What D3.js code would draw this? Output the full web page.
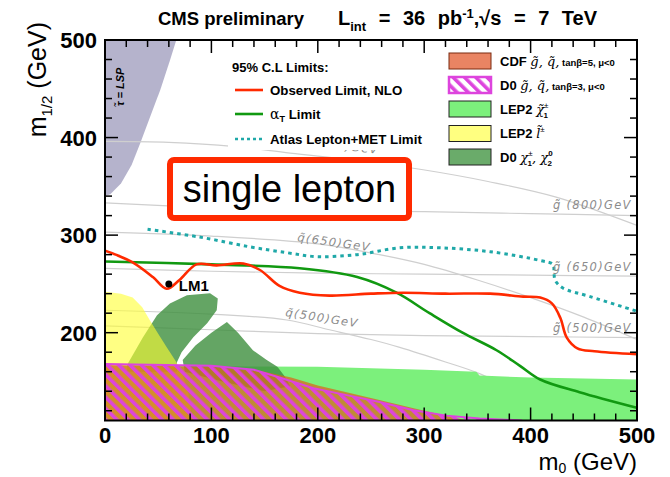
<!DOCTYPE html>
<html><head><meta charset="utf-8">
<script src="https://cdn.jsdelivr.net/npm/d3@7"></script>
<style>
body{margin:0;background:#fff;}
svg{display:block;font-family:"Liberation Sans",Arial,Helvetica,sans-serif;}
</style></head>
<body><svg id="c" width="670" height="477"></svg>
<script>
// ---------- data (m0, m1/2 in GeV) ----------
const xTicks = [0,100,200,300,400,500];
const yTicks = [200,300,400,500];

const stauM0  = [0,5,15,25,33,42,52,61,67];
const stauM12 = [340,342,353,372,394,420,449,479,500];

const sq800M0  = [0,60,120,174,240,299,360,424,500];
const sq800M12 = [396,395,391,384,376,367,355,339,310];
const gl800M0  = [0,100,200,300,400,500];
const gl800M12 = [333,328,325,324,322,320];
const sq650M0  = [0,100,200,258,300,350,400,450,500];
const sq650M12 = [303,299,291,280,270,254,236,216,193];
const gl650M0  = [0,100,200,300,400,500];
const gl650M12 = [266,263,261,260,259,258];
const sq500M0  = [0,100,171,211,250,277,320,352,390,430];
const sq500M12 = [223,219,213,203,193,185,170,158,138,110];
const gl500M0  = [0,100,200,300,400,500];
const gl500M12 = [207,203,199,197,196,195];

const lepChM0  = [0,200,300,349,352,400,500];
const lepChM12 = [166,165,162,160,156,154,152];

const lepSlM0  = [0,15,26,35,42,50,58,67,72,78,82];
const lepSlM12 = [242,240,236,226,213,199,185,170,160,140,110];

const d0aM0  = [20.7,35.7,48.9,61,77,98.7,106,105,96,83,72,67.7];
const d0aM12 = [167,195.4,218,230,238.5,240.5,235,223,209.7,195.4,180,170];
const d0bM0  = [73,85,100,114.6,125,139,152,162,169,174,150,110,75];
const d0bM12 = [172,187,200,211,200,182,172,165,155,145,140,150,160];

const cdfM0  = [0,100,150,175,200,250,300,340];
const cdfM12 = [167,165,160,154,146,133,120,110];
const d0M0   = [0,100,140,164,196,227,258,290,321,352,392];
const d0M12  = [168,166,162,154,143,136,129,120.5,115,112,110];

const obsM0  = [0,10,26,45,58,70,86,105,130,146,164,183,211,250,280,320,362,393,409,420,428,434,444,460,500];
const obsM12 = [284,280,272,257,245,254,270,269,271,264,248,241,238,240,241,240,240,237,236,230,215,195,184,181,178];

const atM0  = [0,100,183,237,274,305,336,368,390,409,446,500];
const atM12 = [273,270,266,257,241,220,200,182,166,152,139,123];

const atlasM0  = [40,89,136,171,199,237,277,315,362,409,421,422,423,430,456,500];
const atlasM12 = [306,298,288,282,278,280,287,287,283,274,270,262,254,246,237,222];

const lm1 = [60,250];

// ---------- setup ----------
const svg = d3.select("#c");
const x = d3.scaleLinear().domain([0,500]).range([105,637]);
const y = d3.scaleLinear().domain([110,500]).range([420.5,40]);
const zip = (a,b)=>a.map((v,i)=>[v,b[i]]);
const defs = svg.append("defs");
defs.append("clipPath").attr("id","plot").append("rect")
  .attr("x",x(0)).attr("y",y(500)).attr("width",x(500)-x(0)).attr("height",y(110)-y(500));
const hatch = defs.append("pattern").attr("id","hatch").attr("patternUnits","userSpaceOnUse")
  .attr("width",8).attr("height",8).attr("patternTransform","rotate(-45)");
hatch.append("rect").attr("x",0).attr("y",0).attr("width",3.6).attr("height",8).attr("fill","#dd44dd");

const area = (m0,m12,close)=>{
  const pts = zip(m0,m12).concat(close);
  return "M"+pts.map(p=>x(p[0])+","+y(p[1])).join("L")+"Z";
};
const smooth = d3.line().x(d=>x(d[0])).y(d=>y(d[1])).curve(d3.curveCatmullRom.alpha(0.5));
const g = svg.append("g").attr("clip-path","url(#plot)");

// stau LSP region
g.append("path").attr("d", area(stauM0,stauM12,[[0,500]])).attr("fill","#b5b3cc");

// iso-mass lines
[[sq800M0,sq800M12],[gl800M0,gl800M12],[sq650M0,sq650M12],[gl650M0,gl650M12],[sq500M0,sq500M12],[gl500M0,gl500M12]]
 .forEach(([a,b])=>g.append("path").attr("d",smooth(zip(a,b))).attr("fill","none").attr("stroke","#cfcfcf").attr("stroke-width",1.2));

// exclusion regions
g.append("path").attr("d", area(lepChM0,lepChM12,[[500,100],[0,100]])).attr("fill","#7cf07c");
g.append("path").attr("d", area(d0aM0,d0aM12,[[67.7,160],[20.7,160]])).attr("fill","#3d8f3d").attr("fill-opacity",0.8);
g.append("path").attr("d", area(d0bM0,d0bM12,[])).attr("fill","#3d8f3d").attr("fill-opacity",0.8);
g.append("path").attr("d", area(lepSlM0,lepSlM12,[[0,100]])).attr("fill","#ffff30").attr("fill-opacity",0.6);
g.append("path").attr("d", area(cdfM0,cdfM12,[[0,100]])).attr("fill","#d86a1c").attr("fill-opacity",0.75);
g.append("path").attr("d", area(d0M0,d0M12,[[0,100]])).attr("fill","url(#hatch)").attr("stroke","#dd44dd").attr("stroke-width",2);

// iso labels
const isoLab = (t,xx,yy,rot)=>svg.append("text").attr("transform",`translate(${xx},${yy}) rotate(${rot})`)
  .attr("font-family","DejaVu Sans").attr("font-style","italic").attr("font-size",11.5)
  .attr("letter-spacing",1.3).attr("fill","#8c8c8c").text(t);

// limit lines
g.append("path").attr("d",smooth(zip(atlasM0,atlasM12))).attr("fill","none").attr("stroke","#1fa8a8").attr("stroke-width",3).attr("stroke-dasharray","3.5,4");
g.append("path").attr("d",smooth(zip(atM0,atM12))).attr("fill","none").attr("stroke","#119911").attr("stroke-width",2.6);
g.append("path").attr("d",smooth(zip(obsM0,obsM12))).attr("fill","none").attr("stroke","#ff2a00").attr("stroke-width",2.6);

// LM1
svg.append("circle").attr("cx",x(lm1[0])).attr("cy",y(lm1[1])).attr("r",3.5).attr("fill","#000");
svg.append("text").attr("x",x(lm1[0])+10).attr("y",y(lm1[1])+7).attr("font-weight","bold").attr("font-size",15).text("LM1");

// iso labels (drawn before legend boxes so the legend hides part)
isoLab("q\u0303(800)GeV",305,146,6);
isoLab("q\u0303(650)GeV",297,241,8);
isoLab("q\u0303(500)GeV",285,316,9);
isoLab("g\u0303 (800)GeV",553,209,0);
isoLab("g\u0303 (650)GeV",553,271,0);
isoLab("g\u0303 (500)GeV",553,332,0);

// left legend
svg.append("rect").attr("x",228).attr("y",46).attr("width",210).attr("height",104).attr("fill","#fff");
svg.append("text").attr("x",232).attr("y",72).attr("font-weight","bold").attr("font-size",13).text("95% C.L Limits:");
const legL = [
  {c:"#ff2a00",d:null,yy:90,t:"Observed Limit, NLO"},
  {c:"#119911",d:null,yy:114,t:"alpha"},
  {c:"#1fa8a8",d:"3,3",yy:139,t:"Atlas Lepton+MET Limit"}];
legL.forEach(l=>{
  svg.append("line").attr("x1",235).attr("x2",263).attr("y1",l.yy).attr("y2",l.yy)
    .attr("stroke",l.c).attr("stroke-width",2.6).attr("stroke-dasharray",l.d);
  const t = svg.append("text").attr("x",270).attr("y",l.yy+5).attr("font-weight","bold").attr("font-size",13.3);
  if(l.t==="alpha"){
    t.append("tspan").attr("font-family","DejaVu Serif").attr("font-weight","normal").attr("font-size",14).text("\u03b1");
    t.append("tspan").attr("font-size",9).attr("dy",3).text("T");
    t.append("tspan").attr("dy",-3).text(" Limit");
  } else t.text(l.t);
});

// right legend
svg.append("rect").attr("x",441).attr("y",46).attr("width",194).attr("height",124).attr("fill","#fff");
const legR = [
  {fill:"#e98463",stroke:"#7a2a10",sw:1,y0:53},
  {fill:"url(#hatch)",stroke:"#dd44dd",sw:2.5,y0:77},
  {fill:"#7cf07c",stroke:"#222",sw:1,y0:101},
  {fill:"#ffff80",stroke:"#222",sw:1,y0:125.5},
  {fill:"#6aab6a",stroke:"#222",sw:1,y0:149}];
legR.forEach(l=>svg.append("rect").attr("x",449).attr("y",l.y0).attr("width",42).attr("height",16)
  .attr("fill",l.fill).attr("stroke",l.stroke).attr("stroke-width",l.sw));
const ser = (t,txt,fs)=>t.append("tspan").attr("font-family","DejaVu Serif").attr("font-style","italic").attr("font-weight","normal").attr("font-size",fs||13).text(txt);
const rt = yy=>svg.append("text").attr("x",500).attr("y",yy).attr("font-weight","bold").attr("font-size",13);
let t;
t=rt(66); t.append("tspan").text("CDF "); ser(t,"g\u0303, q\u0303,"); t.append("tspan").attr("font-size",9.5).text(" tan\u03b2=5, \u03bc<0");
t=rt(90); t.append("tspan").text("D0 "); ser(t,"g\u0303, q\u0303,"); t.append("tspan").attr("font-size",9.5).text(" tan\u03b2=3, \u03bc<0");
t=rt(114); t.append("tspan").text("LEP2  "); ser(t,"\u03c7\u0303"); t.append("tspan").attr("font-size",8).attr("font-weight","normal").attr("dy",-6).text("\u00b1"); t.append("tspan").attr("font-size",8).attr("dx",-5).attr("dy",10).text("1");
t=rt(138); t.append("tspan").text("LEP2  "); ser(t,"l\u0303"); t.append("tspan").attr("font-size",8).attr("font-weight","normal").attr("dy",-6).text("\u00b1");
t=rt(162); t.append("tspan").text("D0  "); ser(t,"\u03c7"); t.append("tspan").attr("font-size",8).attr("font-weight","normal").attr("dy",-6).text("\u00b1"); t.append("tspan").attr("font-size",8).attr("dx",-5).attr("dy",10).text("1");
ser(t,", \u03c7").attr("dy",-4); t.append("tspan").attr("font-size",8).attr("dy",-6).text("0"); t.append("tspan").attr("font-size",8).attr("dx",-5).attr("dy",10).text("2");

// stau label
svg.append("text").attr("transform",`translate(124,106) rotate(-90)`).attr("font-size",11).attr("font-weight","bold").attr("font-style","italic")
  .text("\u03c4\u0303 = LSP");

// frame & ticks
const ax = svg.append("g").attr("stroke","#000");
ax.append("rect").attr("x",x(0)).attr("y",y(500)).attr("width",x(500)-x(0)).attr("height",y(110)-y(500))
  .attr("fill","none").attr("stroke-width",2);
d3.range(0,501,20).forEach(v=>{
  const L = v%100===0?13:7;
  ax.append("line").attr("x1",x(v)).attr("x2",x(v)).attr("y1",y(110)).attr("y2",y(110)-L).attr("stroke-width",1.5);
  ax.append("line").attr("x1",x(v)).attr("x2",x(v)).attr("y1",y(500)).attr("y2",y(500)+L).attr("stroke-width",1.5);
});
d3.range(120,501,20).forEach(v=>{
  const L = v%100===0?13:7;
  ax.append("line").attr("x1",x(0)).attr("x2",x(0)+L).attr("y1",y(v)).attr("y2",y(v)).attr("stroke-width",1.5);
  ax.append("line").attr("x1",x(500)).attr("x2",x(500)-L).attr("y1",y(v)).attr("y2",y(v)).attr("stroke-width",1.5);
});
xTicks.forEach(v=>svg.append("text").attr("x",x(v)).attr("y",443).attr("text-anchor","middle")
  .attr("font-weight","bold").attr("font-size",22).text(v));
yTicks.forEach(v=>svg.append("text").attr("x",97).attr("y",y(v)+8).attr("text-anchor","end")
  .attr("font-weight","bold").attr("font-size",22).text(v));

// axis titles
const xl = svg.append("text").attr("x",637).attr("y",470).attr("text-anchor","end").attr("font-size",24);
xl.append("tspan").text("m"); xl.append("tspan").attr("font-size",14).attr("dy",3).text("0"); xl.append("tspan").attr("dy",-3).text(" (GeV)");
const yl = svg.append("text").attr("transform","translate(46,22) rotate(-90)").attr("text-anchor","end").attr("font-size",25);
yl.append("tspan").text("m"); yl.append("tspan").attr("font-size",15).attr("dy",6).text("1/2"); yl.append("tspan").attr("dy",-6).text(" (GeV)");

// title
svg.append("text").attr("x",158).attr("y",25).attr("font-weight","bold").attr("font-size",18.5).text("CMS preliminary");
const tt = svg.append("text").attr("x",338).attr("y",25).attr("font-weight","bold").attr("font-size",20).attr("word-spacing",7);
tt.append("tspan").text("L"); tt.append("tspan").attr("font-size",13).attr("dy",6).text("int");
tt.append("tspan").attr("dy",-6).text(" = 36 pb"); tt.append("tspan").attr("font-size",13).attr("dy",-7).text("-1");
tt.append("tspan").attr("dy",7).text(",\u221as = 7 TeV");

// single lepton box
svg.append("rect").attr("x",170).attr("y",160).attr("width",239).attr("height",58).attr("rx",4)
  .attr("fill","#fff").attr("stroke","#ff2a00").attr("stroke-width",6);
svg.append("text").attr("x",289.5).attr("y",202).attr("text-anchor","middle").attr("font-size",38).text("single lepton");
</script></body></html>
